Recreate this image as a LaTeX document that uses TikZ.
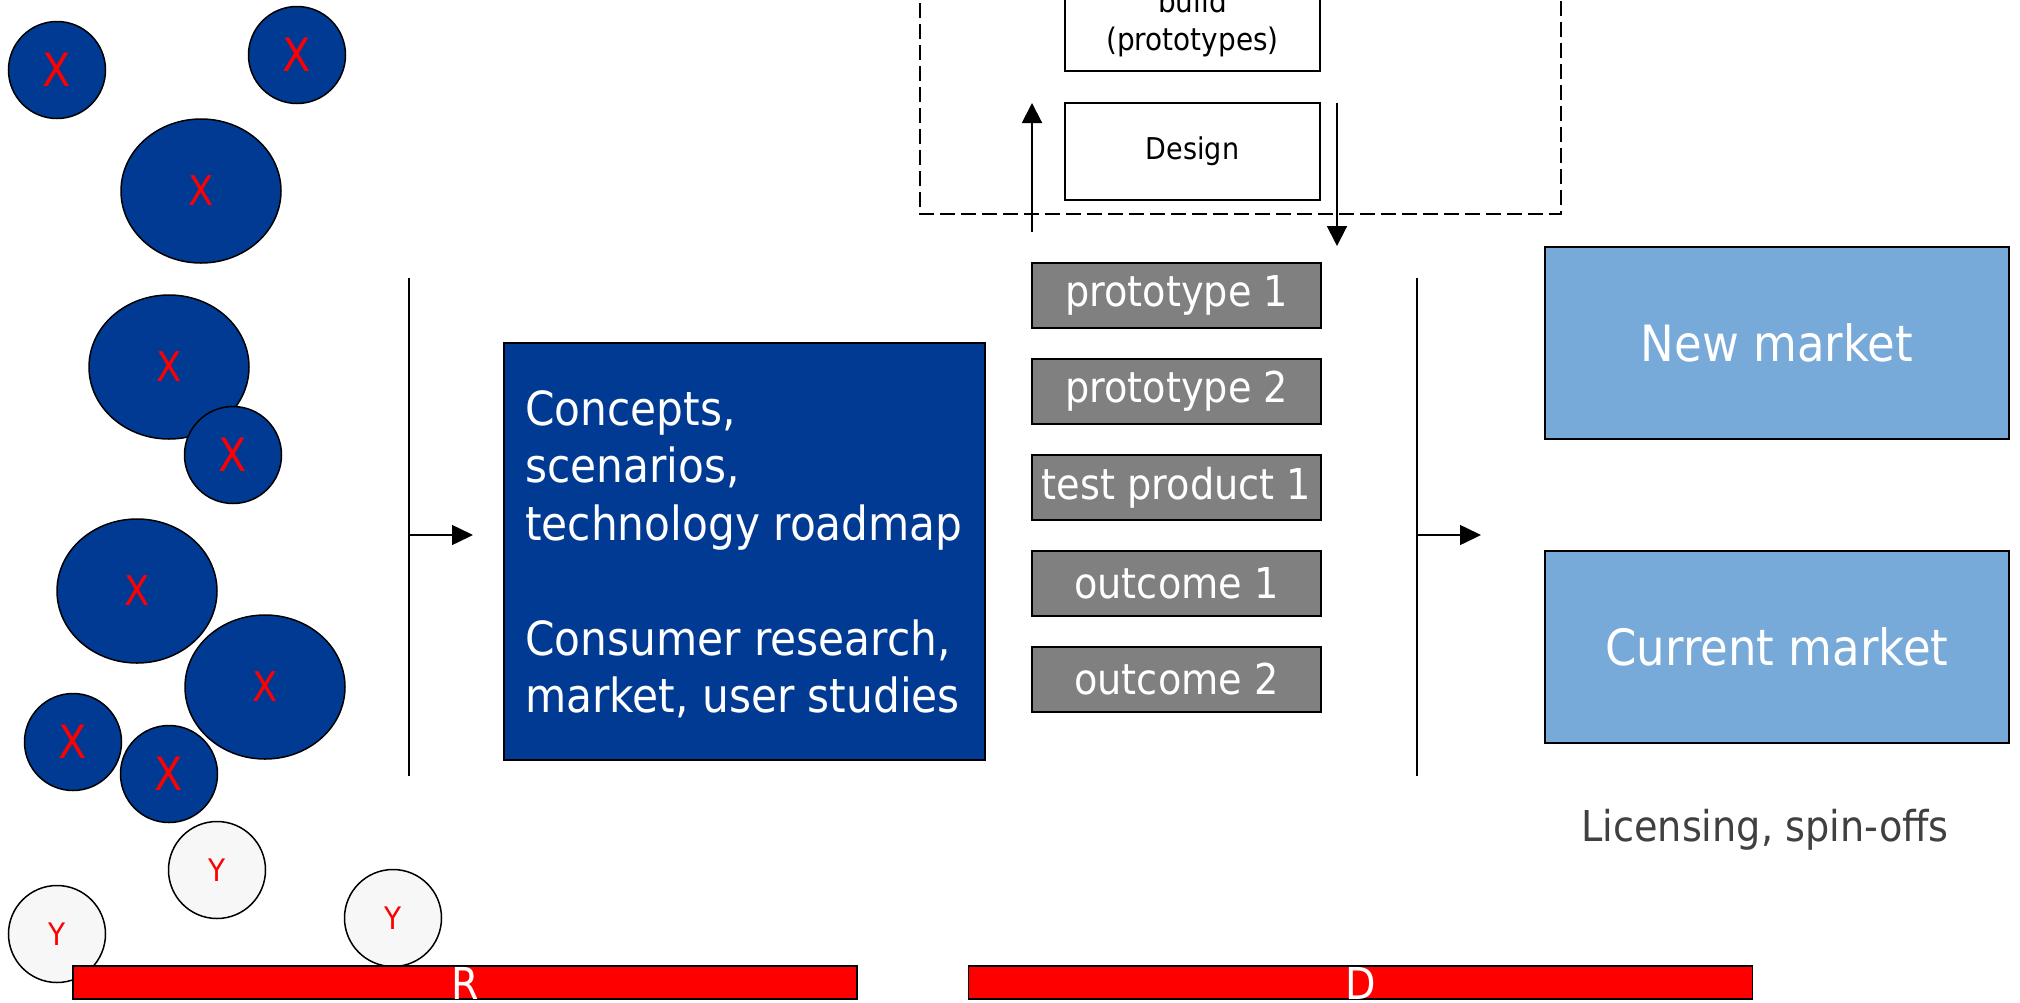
\documentclass[tikz,border=0pt]{standalone}
\usepackage{fontspec}
\setmainfont{DejaVu Sans}[FakeStretch=0.9]
\usetikzlibrary{arrows.meta,shapes.geometric}
\definecolor{navy}{HTML}{003A93}
\definecolor{sky}{HTML}{77A9D9}
\definecolor{slate}{HTML}{808080}
\definecolor{pale}{HTML}{F7F7F7}
\definecolor{ink}{HTML}{404040}
\newcommand\sz[2]{\fontsize{#1}{#2}\selectfont}
\begin{document}
\begin{tikzpicture}[x=1pt,y=-1pt,
  blob/.style={ellipse, draw=black, line width=1.5pt, fill=navy, text=red,
    inner sep=0pt, minimum width=97pt, minimum height=97pt, font=\sz{46}{50}},
  bigblob/.style={blob, minimum width=160pt, minimum height=144pt, font=\sz{41}{46}},
  ycirc/.style={blob, fill=pale, font=\sz{31}{36}},
  slot/.style={draw=black, line width=2pt, fill=slate, text=white, inner sep=0pt,
    minimum width=289pt, minimum height=65pt, font=\sz{42.5}{46}},
  market/.style={draw=black, line width=2pt, fill=sky, text=white, inner sep=0pt,
    minimum width=464pt, minimum height=192pt, font=\sz{50}{56}},
  stage/.style={draw=black, line width=2pt, fill=white, inner sep=0pt,
    minimum width=255pt, minimum height=97pt, font=\sz{31}{38}, align=center},
  phase/.style={draw=black, line width=1.5pt, fill=red, inner sep=0pt,
    minimum width=784pt, minimum height=33pt},
  phaselabel/.style={text=white, font=\sz{44}{48}, anchor=base, inner sep=0pt},
  divider/.style={line width=2pt},
  feed/.style={line width=1.5pt, -{Triangle[length=21pt,width=20pt]}},
  loop/.style={line width=2pt, -{Triangle[length=20pt,width=20pt]}}
]
\useasboundingbox (0,0) rectangle (2020,1002);
\clip (0,0) rectangle (2020,1002);

% ideas: X bubbles
\node[blob]    (x1) at (57,70)   {X};
\node[blob]    (x2) at (297,55)  {X};
\node[bigblob] (x3) at (201,191) {X};
\node[bigblob] (x4) at (169,367) {X};
\node[blob]    (x5) at (233,455) {X};
\node[bigblob] (x6) at (137,591) {X};
\node[bigblob] (x7) at (265,687) {X};
\node[blob]    (x8) at (73,742)  {X};
\node[blob]    (x9) at (169,774) {X};
% Y bubbles
\node[ycirc] (y1) at (217,870) {Y};
\node[ycirc] (y2) at (57,934)  {Y};
\node[ycirc] (y3) at (393,918) {Y};

% first gate
\coordinate (g1top) at (409,278);
\coordinate (g1bot) at (409,776);
\coordinate (g1mid) at (409,535);
\coordinate (g1tip) at (473,535);
\draw[divider] (g1top) -- (g1bot);
\draw[feed] (g1mid) -- (g1tip);

% research outputs
\node[draw=black, line width=2pt, fill=navy, minimum width=481pt, minimum height=417pt,
  inner sep=0pt] (research) at (744.5,551.5) {};
\node[anchor=base west, text=white, font=\sz{47}{57.5}, align=left, inner sep=0pt]
  (researchtxt) at (525,712.5)
  {Concepts,\\scenarios,\\technology roadmap\\[57.5pt]Consumer research,\\market, user studies};

% design / build loop
\draw[line width=2pt, dash pattern=on 15pt off 6pt] (920,-60) rectangle (1561,214);
\node[stage] (build)  at (1192.5,22.5) {build\\(prototypes)};
\node[stage, font=\sz{30}{36}] (design) at (1192.5,151)  {Design};
\coordinate (upfrom) at (1032,232);
\coordinate (upto)   at (1032,103);
\coordinate (dnfrom) at (1337,103);
\coordinate (dnto)   at (1337,246);
\draw[loop] (upfrom) -- (upto);
\draw[loop] (dnfrom) -- (dnto);

% development results
\node[slot] (p1) at (1176.5,295.5) {prototype 1};
\node[slot] (p2) at (1176.5,391.5) {prototype 2};
\node[slot] (t1) at (1176.5,487.5) {test product 1};
\node[slot] (o1) at (1176.5,583.5) {outcome 1};
\node[slot] (o2) at (1176.5,679.5) {outcome 2};

% second gate
\coordinate (g2top) at (1417,278);
\coordinate (g2bot) at (1417,776);
\coordinate (g2mid) at (1417,535);
\coordinate (g2tip) at (1481,535);
\draw[divider] (g2top) -- (g2bot);
\draw[feed] (g2mid) -- (g2tip);

% markets
\node[market] (newm) at (1777,343) {New market};
\node[market] (curm) at (1777,647) {Current market};
\node[anchor=base, text=ink, font=\sz{42.5}{48}, inner sep=0pt] (lic) at (1765,841)
  {Licensing, spin-offs};

% phase bars
\node[phase] (rbar) at (465,982.5) {};
\node[phase] (dbar) at (1360.5,982.5) {};
\node[phaselabel] (rlab) at (465,999) {R};
\node[phaselabel] (dlab) at (1360.5,999) {D};
\end{tikzpicture}
\end{document}
